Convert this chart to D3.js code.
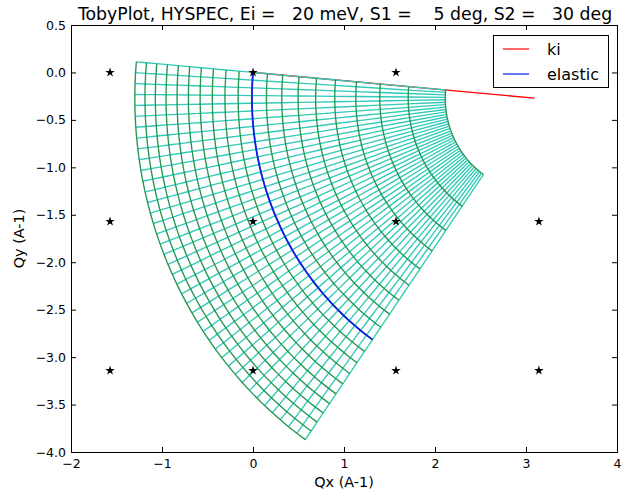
<!DOCTYPE html>
<html>
<head>
<meta charset="utf-8">
<script src="https://cdnjs.cloudflare.com/ajax/libs/d3/7.8.5/d3.min.js"></script>
<style>
  body { margin: 0; background: #fff; }
  svg text { font-family: "DejaVu Sans", sans-serif; fill: #000; }
</style>
</head>
<body>
<svg id="canvas"></svg>
<script>
// instrument settings
const Ei = 20;
const S1 = 5;
const S2 = 30;

// energy transfers (meV) of the constant-E arcs
const energies = [-20, -18, -16, -14, -12, -10, -8, -6, -4, -2, 0, 2, 4, 6, 8, 10, 12, 14, 16, 18];
// detector angles 2theta (deg) of the constant-angle lines
const angles = [0, 1.5, 3, 4.5, 6, 7.5, 9, 10.5, 12, 13.5, 15, 16.5, 18, 19.5, 21, 22.5, 24, 25.5, 27, 28.5,
  30, 31.5, 33, 34.5, 36, 37.5, 39, 40.5, 42, 43.5, 45, 46.5, 48, 49.5, 51, 52.5, 54, 55.5, 57, 58.5, 60];

// reciprocal lattice points
const starQx = [-1.5708, 0, 1.5708, 3.1416];
const starQy = [0, -1.5708, -3.1416];

const xTicks = [-2, -1, 0, 1, 2, 3, 4];
const yTicks = [-4, -3.5, -3, -2.5, -2, -1.5, -1, -0.5, 0, 0.5];

const legendLabels = ["ki", "elastic"];
const titleText = "TobyPlot, HYSPEC, Ei =   20 meV, S1 =    5 deg, S2 =   30 deg";

const kAng = -S1 * Math.PI / 180;
const ki = Math.sqrt(Ei / 2.0721);

function qPoint(E, tth) {
  let kf = Math.sqrt((Ei - E) / 2.0721);
  let a = kAng + tth * Math.PI / 180;
  return [ki * Math.cos(kAng) - kf * Math.cos(a), ki * Math.sin(kAng) - kf * Math.sin(a)];
}

function getChartConfig() {
  let canvasWidth = 624,
    canvasHeight = 493;
  let margin = { top: 25, right: 7, bottom: 41, left: 71 };
  let width = canvasWidth - margin.left - margin.right;
  let height = canvasHeight - margin.top - margin.bottom;

  let svg = d3.select("#canvas");
  svg.attr("width", canvasWidth);
  svg.attr("height", canvasHeight);

  return { canvasWidth, canvasHeight, margin, width, height, svg };
}

function getChartScales(config) {
  let { width, height } = config;
  let xScale = d3.scaleLinear().domain([-2, 4]).range([0, width]);
  let yScale = d3.scaleLinear().domain([-4, 0.5]).range([height, 0]);
  return { xScale, yScale };
}

function drawChart(scales, config) {
  let { margin, svg } = config;
  let { xScale, yScale } = scales;

  let g = svg.append("g").attr("transform", `translate(${margin.left},${margin.top})`);

  const lineGen = d3
    .line()
    .x((d) => xScale(d[0]))
    .y((d) => yScale(d[1]));

  // ki vector
  g.append("path")
    .datum([[0, 0], [ki * Math.cos(kAng), ki * Math.sin(kAng)]])
    .attr("fill", "none")
    .attr("stroke", "#ff0000")
    .attr("stroke-width", 1.4)
    .attr("d", lineGen);

  // constant angle lines
  angles.forEach((t) => {
    g.append("path")
      .datum(energies.map((e) => qPoint(e, t)))
      .attr("fill", "none")
      .attr("stroke", "#30cbb8")
      .attr("stroke-width", 1.35)
      .attr("d", lineGen);
  });

  // constant energy arcs
  energies.forEach((e) => {
    g.append("path")
      .datum(angles.map((t) => qPoint(e, t)))
      .attr("fill", "none")
      .attr("stroke", "#23964f")
      .attr("stroke-width", 1.35)
      .attr("d", lineGen);
  });

  // elastic line
  g.append("path")
    .datum(angles.map((t) => qPoint(0, t)))
    .attr("fill", "none")
    .attr("stroke", "#0a1ee6")
    .attr("stroke-width", 1.8)
    .attr("d", lineGen);

  // lattice points
  let pts = [];
  starQy.forEach((qy) => starQx.forEach((qx) => pts.push([qx, qy])));
  g.selectAll(".star")
    .data(pts)
    .enter()
    .append("path")
    .attr("class", "star")
    .attr("transform", (d) => `translate(${xScale(d[0])},${yScale(d[1])})`)
    .attr("d", d3.symbol(d3.symbolStar, 28))
    .attr("fill", "#000");
}

function drawAxes(scales, config) {
  let { xScale, yScale } = scales;
  let { svg, margin, width, height } = config;

  let g = svg.append("g").attr("transform", `translate(${margin.left},${margin.top})`);

  let axisX = d3.axisBottom(xScale).tickValues(xTicks).tickSizeInner(-5).tickSizeOuter(0).tickPadding(7).tickFormat(d3.format("d"));
  let axisY = d3.axisLeft(yScale).tickValues(yTicks).tickSizeInner(-5).tickSizeOuter(0).tickPadding(5).tickFormat(d3.format(".1f"));
  let axisTop = d3.axisTop(xScale).tickValues(xTicks).tickSizeInner(-5).tickSizeOuter(0).tickFormat("");
  let axisRight = d3.axisRight(yScale).tickValues(yTicks).tickSizeInner(-5).tickSizeOuter(0).tickFormat("");

  g.append("g").attr("transform", `translate(0,${height})`).call(axisX);
  g.append("g").call(axisY);
  g.append("g").call(axisTop);
  g.append("g").attr("transform", `translate(${width},0)`).call(axisRight);

  g.selectAll(".domain").remove();
  g.selectAll(".tick line").attr("stroke", "#000");
  g.selectAll(".tick text").style("font-size", "12.5px").attr("fill", "#000");

  g.append("rect")
    .attr("x", 0.5)
    .attr("y", 0.5)
    .attr("width", width)
    .attr("height", height)
    .attr("fill", "none")
    .attr("stroke", "#000")
    .attr("stroke-width", 1);

  svg.append("text")
    .attr("x", margin.left + width / 2)
    .attr("y", 487)
    .attr("text-anchor", "middle")
    .style("font-size", "14.4px")
    .text("Qx (A-1)");

  svg.append("text")
    .attr("transform", `translate(24,${margin.top + height / 2}) rotate(-90)`)
    .attr("text-anchor", "middle")
    .style("font-size", "14.4px")
    .text("Qy (A-1)");

  svg.append("text")
    .attr("x", 345)
    .attr("y", 20)
    .attr("text-anchor", "middle")
    .style("font-size", "17.3px")
    .style("white-space", "pre")
    .text(titleText);
}

function drawLegend(config) {
  let { svg } = config;
  const colors = ["#ff0000", "#0a1ee6"];

  let lg = svg.append("g").attr("class", "legend");
  lg.append("rect")
    .attr("x", 493.5)
    .attr("y", 35.5)
    .attr("width", 115)
    .attr("height", 52)
    .attr("fill", "#fff")
    .attr("stroke", "#000");

  let item = lg
    .selectAll(".item")
    .data(legendLabels)
    .enter()
    .append("g")
    .attr("class", "item")
    .attr("transform", (d, i) => `translate(0,${49 + i * 25})`);

  item.append("line")
    .attr("x1", 503)
    .attr("x2", 529)
    .attr("stroke", (d, i) => colors[i])
    .attr("stroke-width", 1.2);

  item.append("text")
    .attr("x", 547)
    .attr("dy", "0.36em")
    .style("font-size", "16px")
    .text((d) => d);
}

let config = getChartConfig();
let scales = getChartScales(config);
drawChart(scales, config);
drawAxes(scales, config);
drawLegend(config);
</script>
</body>
</html>
